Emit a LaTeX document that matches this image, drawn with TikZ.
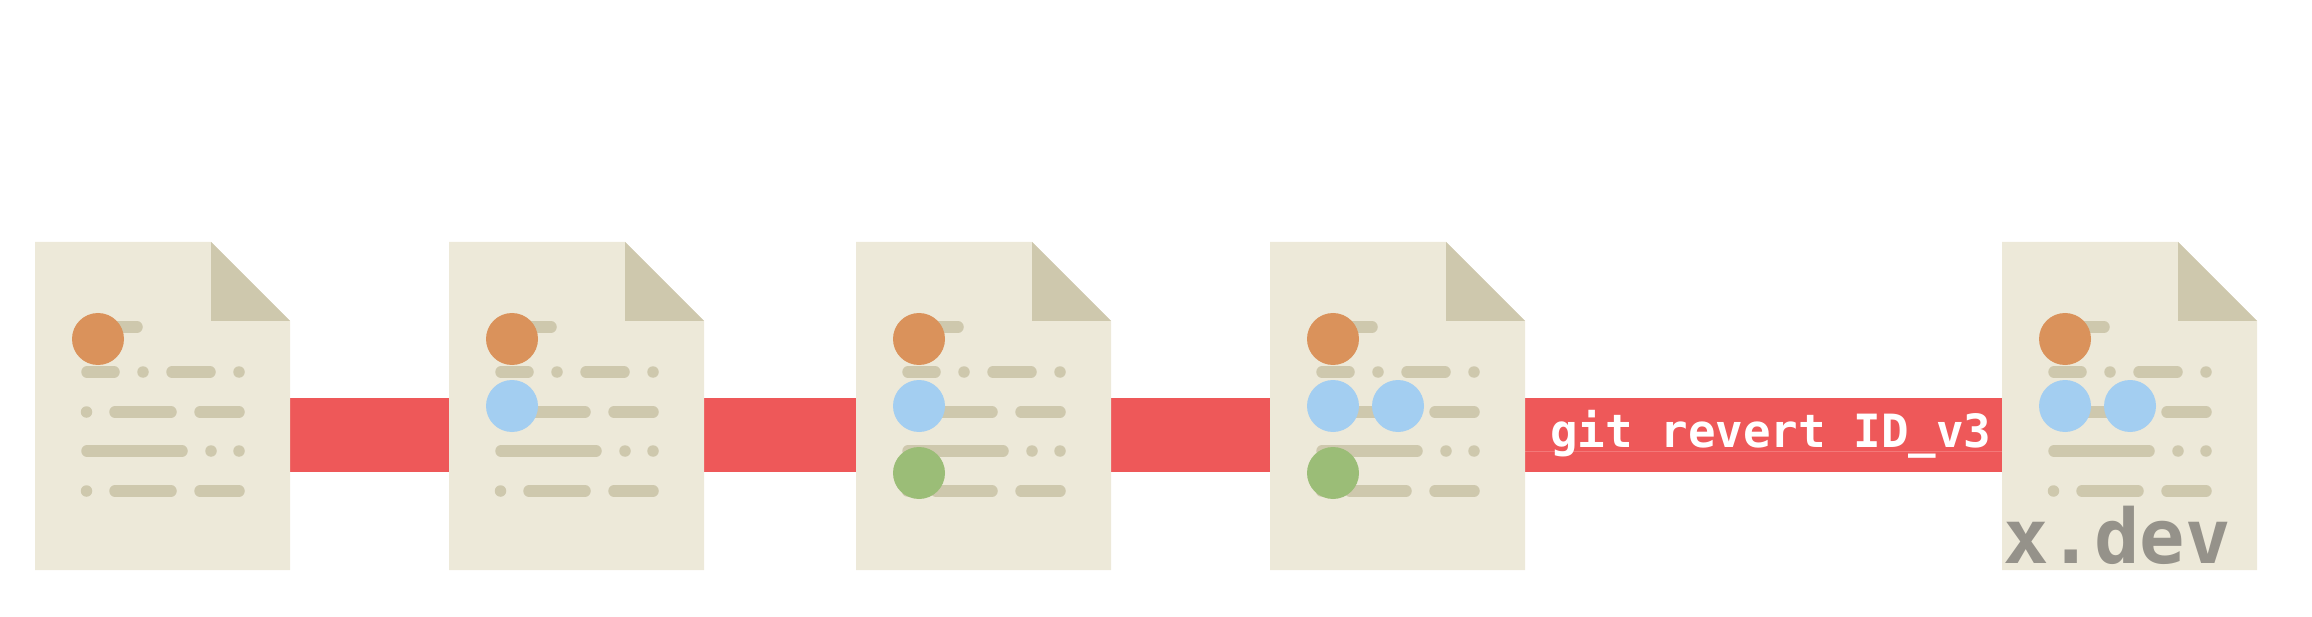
\documentclass[tikz,border=0pt]{standalone}
\usepackage{xcolor}
\usepackage{fontspec}
\setmonofont{DejaVu Sans Mono}
\definecolor{paperbeige}{RGB}{237,233,217}
\definecolor{linekhaki}{RGB}{206,200,173}
\definecolor{barred}{RGB}{238,88,89}
\definecolor{lightred}{RGB}{243,120,120}
\definecolor{dotorange}{RGB}{218,146,91}
\definecolor{dotblue}{RGB}{163,206,241}
\definecolor{dotgreen}{RGB}{155,189,119}
\definecolor{logogrey}{RGB}{149,146,138}
\tikzset{
  pill/.style={line width=11.5pt, line cap=round, draw=linekhaki},
  speck/.style={fill=linekhaki},
  marker/.style={minimum size=52pt, inner sep=0pt, circle}
}
\newcommand{\docpage}[1]{%
  \begin{scope}[xshift=#1pt]
  \fill[paperbeige] (0,242) -- (176,242) -- (255,321) -- (255,570) -- (0,570) -- cycle;
  \fill[linekhaki] (176,242) -- (255,321) -- (176,321) -- cycle;
  \draw[pill] (52,327) -- (102,327);
  \draw[pill] (52,372) -- (79,372);
  \fill[speck] (108,372) circle (5.75);
  \draw[pill] (137,372) -- (175,372);
  \fill[speck] (204,372) circle (5.75);
  \fill[speck] (51.5,412) circle (5.75);
  \draw[pill] (80,412) -- (136,412);
  \draw[pill] (165,412) -- (204,412);
  \draw[pill] (52,451) -- (147,451);
  \fill[speck] (176,451) circle (5.75);
  \fill[speck] (204,451) circle (5.75);
  \fill[speck] (51.5,491) circle (5.75);
  \draw[pill] (80,491) -- (136,491);
  \draw[pill] (165,491) -- (204,491);
  \end{scope}
}
\begin{document}
\begin{tikzpicture}[x=1pt,y=-1pt]
\useasboundingbox (0,0) rectangle (2312,617);

\fill[barred] (290,398) rectangle (2002,472);
\draw[lightred, line width=0.8pt] (1525,451) -- (2002,451);

\docpage{35}
\docpage{449}
\docpage{856}
\docpage{1270}
\docpage{2002}

\node[marker, fill=dotorange] (orangea) at (98,339) {};

\node[marker, fill=dotorange] (orangeb) at (512,339) {};
\node[marker, fill=dotblue] (blueb) at (512,406) {};

\node[marker, fill=dotorange] (orangec) at (919,339) {};
\node[marker, fill=dotblue] (bluec) at (919,406) {};
\node[marker, fill=dotgreen] (greenc) at (919,473) {};

\node[marker, fill=dotorange] (oranged) at (1333,339) {};
\node[marker, fill=dotblue] (blued) at (1333,406) {};
\node[marker, fill=dotblue] (bluedd) at (1398,406) {};
\node[marker, fill=dotgreen] (greend) at (1333,473) {};

\node[marker, fill=dotorange] (orangee) at (2065,339) {};
\node[marker, fill=dotblue] (bluee) at (2065,406) {};
\node[marker, fill=dotblue] (blueee) at (2130,406) {};

\node[anchor=base west, inner sep=0pt, text=white] (revertcmd) at (1550,447)
  {\fontsize{45.8}{50}\selectfont\ttfamily\bfseries git revert ID\_v3};
\node[anchor=base west, inner sep=0pt, text=logogrey] (devlogo) at (2003,563)
  {\fontsize{75.5}{80}\selectfont\ttfamily\bfseries x.dev};
\end{tikzpicture}
\end{document}
